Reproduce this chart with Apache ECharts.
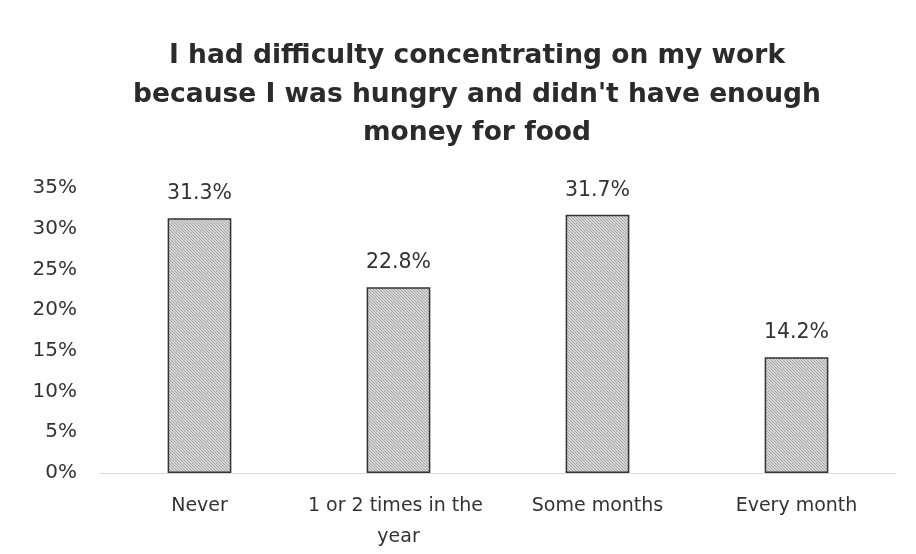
<!DOCTYPE html>
<html><head><meta charset="utf-8">
<script src="https://cdn.jsdelivr.net/npm/echarts@6/dist/echarts.min.js"></script>
<style>html,body{margin:0;padding:0;background:#fff}#c{width:916px;height:554px}</style>
</head><body><div id="c"></div>
<script>
const categories = ["Never", "1 or 2 times in the year", "Some months", "Every month"];
const values = [31.3, 22.8, 31.7, 14.2];
const yTicks = [0, 5, 10, 15, 20, 25, 30, 35];
const titleText = "I had difficulty concentrating on my work\nbecause I was hungry and didn't have enough\nmoney for food";

function makePattern() {
  const c = document.createElement('canvas');
  c.width = 6; c.height = 6;
  const g = c.getContext('2d');
  g.fillStyle = '#e6e6e6';
  g.fillRect(0, 0, 6, 6);
  g.strokeStyle = '#a4a4a4';
  g.lineWidth = 1.1;
  for (let k = -6; k <= 12; k += 3) {
    g.beginPath();
    g.moveTo(k, 0);
    g.lineTo(k + 6, 6);
    g.stroke();
  }
  return c;
}

const chart = echarts.init(document.getElementById('c'));
const font = '"DejaVu Sans", sans-serif';
chart.setOption({
  animation: false,
  backgroundColor: '#fff',
  title: {
    text: titleText,
    left: 472,
    textAlign: 'center',
    top: 32,
    textStyle: { fontFamily: font, fontWeight: 'bold', fontSize: 26.5, lineHeight: 38.5, color: '#2b2b2b' }
  },
  grid: { left: 100, right: 20, top: 188, bottom: 81 },
  xAxis: {
    type: 'category',
    data: categories,
    axisLine: { show: true, lineStyle: { color: '#d9d9d9', width: 1 } },
    axisTick: { show: false },
    axisLabel: {
      interval: 0, margin: 18, color: '#333', fontFamily: font, fontSize: 19, lineHeight: 31,
      width: 190, overflow: 'break'
    }
  },
  yAxis: {
    type: 'value',
    min: yTicks[0], max: yTicks[yTicks.length - 1], interval: 5,
    axisLine: { show: false },
    axisTick: { show: false },
    splitLine: { show: false },
    axisLabel: { formatter: '{value}%', margin: 23, color: '#333', fontFamily: font, fontSize: 20 }
  },
  series: [{
    type: 'bar',
    data: values,
    barWidth: '32%',
    itemStyle: {
      color: { image: makePattern(), repeat: 'repeat' },
      borderColor: '#333',
      borderWidth: 1.5
    },
    label: {
      show: true, position: 'top', distance: 14,
      formatter: p => p.value.toFixed(1) + '%',
      color: '#333', fontFamily: font, fontSize: 20.5
    }
  }]
});
</script></body></html>
